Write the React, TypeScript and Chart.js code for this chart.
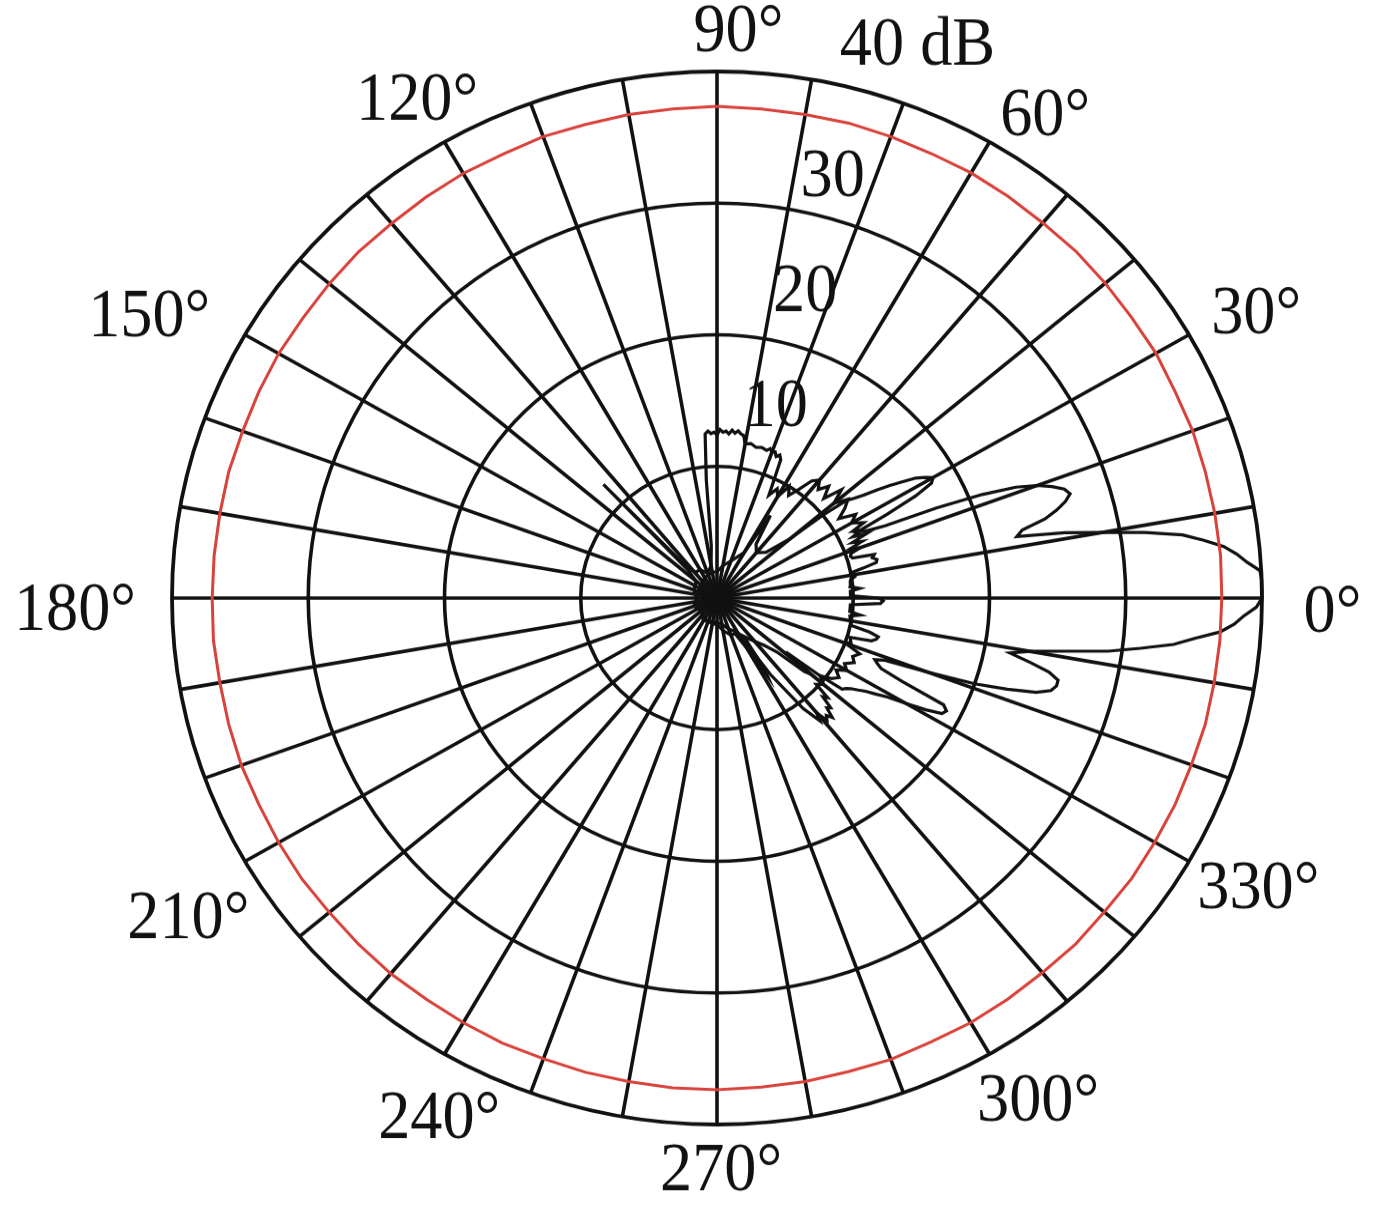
import React, { useEffect, useRef } from 'react';
import { Chart, registerables } from 'chart.js';

Chart.register(...registerables);

// ---------- data ----------
// angle labels around the rim (degrees, counter-clockwise from the right)
const angleTickDegrees = [0, 30, 60, 90, 120, 150, 180, 210, 240, 270, 300, 330];
const angleTickLabels = ['0°', '30°', '60°', '90°', '120°', '150°', '180°', '210°', '240°', '270°', '300°', '330°'];

// radial ticks (dB)
const radialTicks = [10, 20, 30, 40];
const radialTickLabels = ['10', '20', '30', '40 dB'];

// beam pattern trace (angle in degrees, level in dB)
const beamAngles = [
  -90, -80, -70, -64, -60, -58, -57, -56, -52, -46, -43, -41, -40, -39, -38, -37, -36, -35, -34, -33,
  -32, -31, -30, -29, -28, -27, -26, -25, -24, -23, -22, -21, -20, -19, -18, -17, -16, -15, -14, -13,
  -12, -11, -10, -9, -8, -7, -6, -5, -4, -3, -2, -1, 0, 1, 2, 3, 4, 5, 6, 7,
  8, 9, 10, 11, 12, 13, 14, 15, 16, 17, 18, 19, 20, 21, 22, 23, 24, 25, 26, 27,
  28, 29, 30, 31, 32, 33, 34, 35, 36, 37, 38, 39, 40, 44, 50, 55, 58, 60, 70, 80,
  90, 100, 120, 150, 180, 210, 240, 260,
];
const beamDb = [
  2, 2.5, 3, 3, 4.5, 7, 6.3, 3.5, 4, 5, 6, 8.5, 9, 6.5, 9.5, 11.5, 11.7, 12, 12.5, 13,
  13.8, 14.6, 16, 17.5, 18.7, 18.9, 18.5, 15, 13.2, 12.8, 12.5, 13.2, 16.5, 20, 22.4, 24.5, 25.5, 25.8, 25.8, 25,
  23.5, 21.9, 23.3, 25.8, 29, 31.3, 33.7, 35.2, 37, 38, 38.7, 39.6, 40, 40, 40, 39.9, 39, 38.3, 37.4, 36,
  34.5, 31.8, 28.7, 26, 22.5, 23, 24.8, 25.8, 26.6, 27.1, 26.8, 26, 25, 23.5, 21, 17.5, 13.5, 12, 11.5, 14,
  16.5, 18, 18.3, 17.8, 17.2, 16.2, 15.3, 14.3, 13.3, 12.6, 12, 10, 7, 5, 4.5, 5, 7.4, 4, 3, 2.5,
  2, 2, 1.8, 1.5, 1.5, 1.5, 1.8, 2,
];

// background / noise trace
const noiseAngles = [
  -60, -56, -53, -51, -50, -49, -48, -47, -46, -45, -44, -43, -42, -40, -38, -36, -34, -32, -30, -28,
  -26, -24, -22, -20, -19, -18, -17, -16, -15, -14, -13, -12, -11, -10, -9, -8, -7, -6, -5, -4,
  -3, -2, -1, 0, 1, 2, 3, 4, 5, 6, 7, 8, 9, 10, 11, 12, 13, 14, 15, 16,
  17, 18, 19, 20, 21, 22, 23, 24, 25, 26, 27, 28, 30, 32, 34, 36, 38, 40, 42, 44,
  46, 48, 50, 52, 54, 56, 58, 60, 62, 64, 66, 67, 68, 69, 70, 71, 72, 74, 76, 78,
  80, 81, 82, 83, 84, 85, 86, 87, 88, 89, 90, 91, 92, 93, 94, 95, 96, 100, 110, 120,
  128, 133, 134, 135, 140, 160, 180, 200, 220, 240, 260, 280, 290,
];
const noiseDb = [
  3, 7, 10.5, 12, 11.4, 12.3, 12, 12.4, 11.6, 11.8, 10.8, 11.1, 9.8, 10.2, 9.6, 10.4, 10.8, 10.3, 11, 10.6,
  11.2, 10.9, 11.3, 10.0, 10.4, 10.3, 10.2, 11.8, 12.1, 12.2, 11.5, 10.1, 10.0, 9.9, 9.9, 9.85, 10.6, 9.8, 9.8, 9.8,
  9.8, 12, 12.2, 11.9, 9.8, 9.8, 9.8, 10.5, 9.8, 9.85, 9.85, 9.9, 10.2, 9.9, 10, 11, 12, 12.1, 11.8, 12,
  10.4, 10.3, 10.4, 11.2, 10.5, 11.5, 10.8, 12, 11, 11.8, 11.2, 12.2, 11.4, 12, 10.8, 11.6, 12.2, 11.2, 12.3, 10.9,
  11.8, 11.1, 11.7, 11.3, 10.2, 9.4, 10, 8.9, 9.4, 8.7, 11.5, 11.8, 11.6, 11.9, 11.8, 12, 11.8, 11.9, 11.8, 12,
  11.9, 12.5, 12.6, 12.8, 12.6, 12.8, 12.5, 12.7, 12.6, 12.8, 12.4, 12.6, 12.5, 12.7, 12.5, 9, 4, 2.5, 2, 2.5,
  2.5, 3, 12, 3, 2, 1.8, 1.5, 1.8, 1.5, 2, 1.8, 2, 2.5,
];

// red reference circle
const refAngles = [
  0, 5, 10, 15, 20, 25, 30, 35, 40, 45, 50, 55, 60, 65, 70, 75, 80, 85, 90, 95,
  100, 105, 110, 115, 120, 125, 130, 135, 140, 145, 150, 155, 160, 165, 170, 175, 180, 185, 190, 195,
  200, 205, 210, 215, 220, 225, 230, 235, 240, 245, 250, 255, 260, 265, 270, 275, 280, 285, 290, 295,
  300, 305, 310, 315, 320, 325, 330, 335, 340, 345, 350, 355,
];
const refDb = [
  37.05, 37.1, 37.1, 37.1, 37.15, 37.1, 37.2, 37.15, 37.2, 37.25, 37.2, 37.25, 37.3, 37.25, 37.3, 37.35, 37.3, 37.3, 37.35, 37.3,
  37.3, 37.25, 37.3, 37.2, 37.25, 37.2, 37.15, 37.2, 37.15, 37.1, 37.15, 37.1, 37.05, 37.1, 37.05, 37.05, 37.05, 37.1, 37.05, 37.1,
  37.15, 37.1, 37.15, 37.2, 37.15, 37.2, 37.25, 37.2, 37.25, 37.3, 37.25, 37.3, 37.3, 37.35, 37.35, 37.3, 37.3, 37.25, 37.3, 37.2,
  37.25, 37.2, 37.15, 37.2, 37.1, 37.15, 37.1, 37.1, 37.05, 37.1, 37.05, 37.05,
];

// ---------- layout (not data) ----------
const angleLabelPlacement: [number, number][] = [
  [-1.5, 1.1297], [28.5, 1.1257], [56.6, 1.0939], [87.9, 1.0728], [120.3, 1.0906], [153, 1.1692],
  [181.3, 1.1783], [212.2, 1.1464], [242.8, 1.115], [270.4, 1.0912], [301.6, 1.1244], [330.8, 1.138],
];
const radialLabelPlacement: [number, number][] = [
  [73.3, 68.6], [74.4, 55.2], [75.1, 41.3], [74.8, 46],
];

const STEPS = 360;
const categoryLabels = Array.from({ length: STEPS }, (_, i) => (STEPS - i) % STEPS);

function toSeries(angles: number[], values: number[]) {
  const out: (number | null)[] = new Array(STEPS).fill(null);
  angles.forEach((a, k) => {
    const deg = ((Math.round(a) % 360) + 360) % 360;
    const idx = (360 - deg) % 360;
    out[idx] = values[k];
  });
  return out;
}

const FONT = '71px "Liberation Serif", "Times New Roman", serif';
const TEXT_SX = 0.905;

const textPlugin = {
  id: 'polarText',
  afterDraw(chart: any) {
    const s = chart.scales.r;
    const ctx = chart.ctx as CanvasRenderingContext2D;
    const put = (t: string, x: number, y: number, shift: number) => {
      ctx.save();
      ctx.translate(x, y);
      ctx.scale(TEXT_SX, 1);
      ctx.fillText(t, -shift, 0);
      ctx.restore();
    };
    ctx.save();
    ctx.fillStyle = '#111';
    ctx.font = FONT;
    ctx.textBaseline = 'middle';
    ctx.textAlign = 'center';
    angleTickLabels.forEach((t, k) => {
      const [a, f] = angleLabelPlacement[k];
      const rad = (a * Math.PI) / 180;
      const d = s.drawingArea * f;
      put(t, s.xCenter + Math.cos(rad) * d, s.yCenter - Math.sin(rad) * d, 0);
    });
    ctx.textAlign = 'left';
    radialTicks.forEach((v, k) => {
      const [a, off] = radialLabelPlacement[k];
      const rad = (a * Math.PI) / 180;
      const d = s.getDistanceFromCenterForValue(v) + off;
      const x = s.xCenter + Math.cos(rad) * d;
      const y = s.yCenter - Math.sin(rad) * d;
      const w = ctx.measureText(String(v)).width;
      put(radialTickLabels[k], x, y, w / 2);
    });
    ctx.restore();
  },
};

export default function App() {
  const ref = useRef<HTMLCanvasElement>(null);
  useEffect(() => {
    const canvas = ref.current!;
    const chart = new Chart(canvas, {
      type: 'radar',
      data: {
        labels: categoryLabels,
        datasets: [
          {
            label: 'reference',
            data: toSeries(refAngles, refDb),
            borderColor: '#d8423a',
            borderWidth: 3,
            pointRadius: 0,
            fill: false,
            spanGaps: true,
            tension: 0,
          },
          {
            label: 'noise',
            data: toSeries(noiseAngles, noiseDb),
            borderColor: '#111',
            borderWidth: 3.2,
            pointRadius: 0,
            fill: false,
            spanGaps: true,
            tension: 0,
          },
          {
            label: 'beam',
            data: toSeries(beamAngles, beamDb),
            borderColor: '#111',
            borderWidth: 3.2,
            pointRadius: 0,
            fill: false,
            spanGaps: true,
            tension: 0,
          },
        ],
      },
      options: {
        responsive: false,
        animation: false,
        layout: { padding: { left: 172, right: 172, top: 74.5, bottom: 74.5 } },
        plugins: { legend: { display: false }, tooltip: { enabled: false } },
        elements: { line: { borderJoinStyle: 'miter' } },
        scales: {
          r: {
            min: 0,
            max: 40,
            startAngle: 90,
            ticks: { display: false, stepSize: 10 },
            pointLabels: { display: false },
            grid: {
              circular: true,
              color: '#111',
              lineWidth: (c: any) => (c.tick && c.tick.value === 40 ? 3.8 : 3.6),
            },
            angleLines: {
              display: true,
              color: '#111',
              lineWidth: (c: any) => (c.index % 10 === 0 ? 3.6 : 0),
            },
          },
        },
      },
      plugins: [textPlugin],
    } as any);
    return () => chart.destroy();
  }, []);
  return (
    <div
      style={{
        position: 'absolute',
        left: 0,
        top: 0,
        width: 1378,
        height: 1216,
        overflow: 'hidden',
        background: '#fff',
      }}
    >
      <canvas
        ref={ref}
        width={1434}
        height={1239}
        style={{
          display: 'block',
          width: 1434,
          height: 1239,
          transform: 'scaleY(0.9661)',
          transformOrigin: '0 0',
        }}
      />
    </div>
  );
}
